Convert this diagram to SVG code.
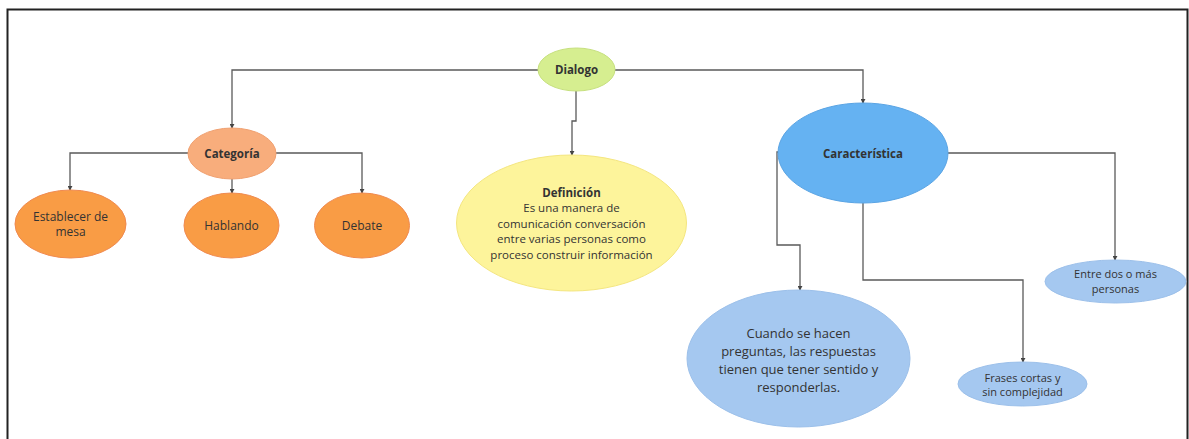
<svg xmlns="http://www.w3.org/2000/svg" width="1189" height="439" viewBox="0 0 1189 439">
<defs>
<marker id="arr" viewBox="0 0 6 6" refX="5" refY="3" markerWidth="5" markerHeight="5" orient="auto" markerUnits="userSpaceOnUse">
<path d="M0,0 L6,3 L0,6 z" fill="#444"/>
</marker>
<style>
text{font-family:"Open Sans","Noto Sans","Liberation Sans",sans-serif;fill:#333;text-anchor:middle}
.b{font-weight:bold}
.c{fill:none;stroke:#5a5a5a;stroke-width:1.3;marker-end:url(#arr)}
.or{fill:#f99c45;stroke:#f08a50;stroke-width:1}
.lb{fill:#a5c8f0;stroke:#9cc0ea;stroke-width:1}
</style>
</defs>
<rect width="1189" height="439" fill="#fff"/>
<path d="M7.5,439 L7.5,9.5 L1187.5,9.5 L1187.5,439" fill="none" stroke="#222" stroke-width="2"/>
<g id="connectors">
<path class="c" d="M538,70 H232 V128"/>
<path class="c" d="M615,70 H863 V103"/>
<path class="c" d="M576,91 V121 H572 V155"/>
<path class="c" d="M188,153 H70 V190"/>
<path class="c" d="M232,179 V193"/>
<path class="c" d="M276,153 H362 V193"/>
<path class="c" d="M778,152 H777 V245 H800 V290"/>
<path class="c" d="M863,203 V280 H1023 V362"/>
<path class="c" d="M948,153 H1115 V260"/>
</g>
<g id="dialogo">
<ellipse cx="576.5" cy="69.5" rx="38.5" ry="21.5" fill="#d6ee90" stroke="#c6e07e"/>
<text x="576.5" y="74" class="b" font-size="11.5">Dialogo</text>
</g>
<g id="categoria">
<ellipse cx="232" cy="153.5" rx="44" ry="25.5" fill="#f8ad7c" stroke="#f0a070"/>
<text x="232" y="158" class="b" font-size="11.5">Categoría</text>
</g>
<g id="establecer">
<ellipse cx="70.5" cy="224" rx="55.5" ry="34" class="or"/>
<text x="70.5" y="221" font-size="12">Establecer de</text>
<text x="70.5" y="236" font-size="12">mesa</text>
</g>
<g id="hablando">
<ellipse cx="231.5" cy="225.5" rx="47.5" ry="32.5" class="or" stroke="#f99c45"/>
<text x="231.5" y="230" font-size="12">Hablando</text>
</g>
<g id="debate">
<ellipse cx="362" cy="225.5" rx="47.5" ry="32.5" class="or" stroke="#f99c45"/>
<text x="362" y="230" font-size="12">Debate</text>
</g>
<g id="definicion">
<ellipse cx="571.5" cy="223" rx="115" ry="68" fill="#fdf49b" stroke="#f4e680"/>
<text x="571.5" y="196.5" class="b" font-size="11.5">Definición</text>
<text x="571.5" y="212" font-size="11.5">Es una manera de</text>
<text x="571.5" y="227.5" font-size="11.5">comunicación conversación</text>
<text x="571.5" y="243" font-size="11.5">entre varias personas como</text>
<text x="571.5" y="258.5" font-size="11.5">proceso construir información</text>
</g>
<g id="caracteristica">
<ellipse cx="863" cy="153" rx="85" ry="50" fill="#65b2f2" stroke="#5aa4e4"/>
<text x="863" y="157.5" class="b" font-size="11.5">Característica</text>
</g>
<g id="cuando">
<ellipse cx="798.5" cy="358.5" rx="111.5" ry="68.5" class="lb"/>
<text x="798.5" y="337.5" font-size="13">Cuando se hacen</text>
<text x="798.5" y="355.5" font-size="13">preguntas, las respuestas</text>
<text x="798.5" y="373.5" font-size="13">tienen que tener sentido y</text>
<text x="798.5" y="391.5" font-size="13">responderlas.</text>
</g>
<g id="entre">
<ellipse cx="1115.5" cy="281.5" rx="70.5" ry="21.5" class="lb"/>
<text x="1115.5" y="278" font-size="11">Entre dos o más</text>
<text x="1115.5" y="293" font-size="11">personas</text>
</g>
<g id="frases">
<ellipse cx="1022.5" cy="384" rx="64.5" ry="22" class="lb"/>
<text x="1022.5" y="381.5" font-size="11">Frases cortas y</text>
<text x="1022.5" y="396" font-size="11">sin complejidad</text>
</g>
</svg>
